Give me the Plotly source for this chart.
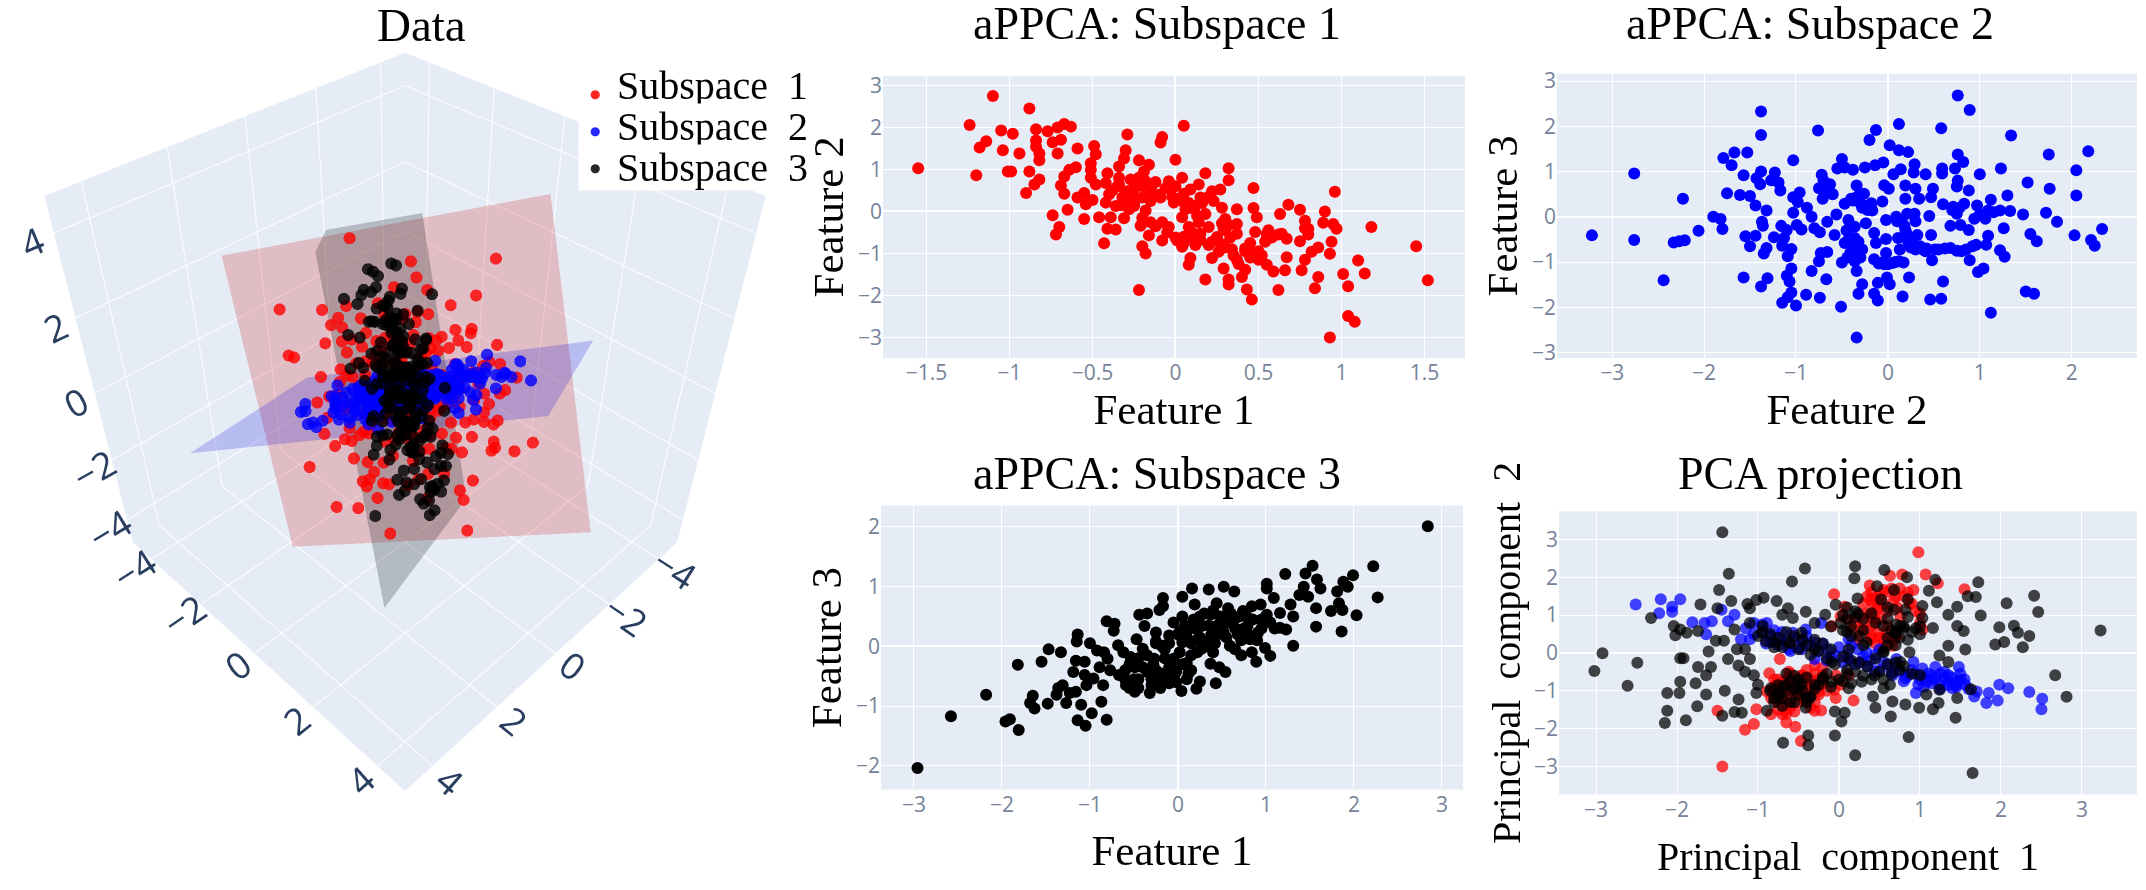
import plotly.graph_objects as go

W, H = 2146, 890
SERIF = "Liberation Serif"
TICK_GREY = "#76839a"

sub1_f1 = [-1.55,-1.24,-1.10,-.88,-1.05,-.98,-1.14,-1.18,-1.04,-.94,-1.2,-1.01,-.88,-.99,-.82,-.85,-.9,-.84,-.84,-.84,-.82,-.82,-.77,-.71,-.67,-.63,-.74,-.69,-.71,-.59,
 -.49,-.48,-.51,-.51,-.51,-.64,-.6,-.67,-.69,-.67,-.74,-.65,-.7,-.72,-.59,-.55,-.54,-.5,-.55,-.46,-.43,-.41,-.36,-.39,-.31,-.42,-.4,-.41,-.48,-.42,
 -.34,-.31,-.3,-.29,-.34,-.29,-.32,-.36,-.34,-.22,-.16,-.19,-.27,-.2,-.14,-.25,-.2,-.15,-.09,-.25,-.18,-.21,-.16,-.15,-.08,-.04,-.08,-.09,.05,0,
 -.2,-.18,-.22,-.08,-.04,.04,0,.04,-.01,.06,.04,.08,.01,.07,.12,.04,.18,.14,.09,.15,.12,.18,.14,.2,.15,.22,.27,.23,.28,.3,
 .29,.25,.2,.09,.08,.22,.26,.18,.29,.32,.32,.32,.32,.34,.37,.37,.37,.37,.47,.47,.49,.48,.42,.47,.42,.4,.43,.46,.5,.55,
 .54,.55,.59,.62,.63,.64,.67,.66,.67,.68,.75,.75,.78,.8,.78,.76,.82,.86,.86,.84,.9,.89,.96,.95,.97,.94,.93,1.1,1.01,1.04,
 1.14,1.04,1.08,.93,1.18,1.45,1.52]
sub1_f2 = [1.03,2.06,2.75,2.45,1.93,1.85,1.67,1.52,1.46,1.38,.86,.95,.95,.95,.76,.64,.44,1.96,1.69,1.54,1.38,1.22,1.91,2.0,2.08,2.02,1.65,1.71,1.38,1.5,
 1.56,1.36,1.15,.99,.8,.99,1.05,.83,.62,.42,-.09,.04,-.37,-.55,.33,.44,.17,.27,-.18,-.14,-.76,-.41,-.43,-.14,-.16,.21,.41,.91,.64,.68,
 1.07,1.26,1.46,1.83,.8,.48,.33,.13,.64,1.22,1.11,.95,.76,.6,.64,.37,.33,.25,.33,.13,.02,-.34,-.57,-.26,-.26,-.37,1.77,1.64,2.04,1.23,
 -.83,-1.0,-1.87,-.69,.72,.8,.6,.25,.21,.05,-.14,-.37,-.69,-.61,-.8,-.84,.91,.64,.52,.33,.13,-.06,-.26,-.37,-.53,.48,.52,.25,.09,-.18,
 -.41,-.61,-.8,-1.11,-1.27,-1.11,-.96,-1.62,-1.36,-1.62,-1.74,1.03,.74,-.9,-1.15,-.53,-.3,.05,.56,.08,-.14,-.49,-.88,-1.0,-1.39,-1.56,-1.86,-2.1,-1.15,-1.27,
 -.72,-.53,-1.43,-1.87,-.06,-.53,-.65,-1.4,-1.09,.16,.04,-.71,-.22,-.41,-1.15,-1.4,-.96,-.86,-1.56,-1.83,0,-.27,.47,-.3,-.41,-.72,-1.01,-1.17,-1.49,-1.78,
 -1.48,-2.49,-2.63,-3.0,-.37,-.83,-1.64]
sub1_z = [3.2,.9,-.4,-.7,.6,.5,1.1,1.5,1.1,1.0,2.4,1.7,1.3,1.6,1.4,1.6,2.1,-.1,.2,.4,.6,.8,-.2,-.6,-.7,-.8,0,-.2,.2,-.2,
 -.6,-.3,0,.2,.4,.6,.4,.9,1.2,1.4,2.3,1.8,2.5,2.8,1.3,1.1,1.3,1.1,1.8,1.6,2.2,1.7,1.6,1.3,1.1,1.0,.7,0,.6,.3,
 -.4,-.7,-1.0,-1.6,-.1,.2,.5,.9,.2,-1.0,-1.0,-.7,-.2,-.2,-.4,.2,.2,.1,-.2,.6,.5,1.1,1.2,.7,.6,.6,-2.1,-1.9,-2.8,-1.6,
 1.6,1.8,3.0,1.1,-.8,-1.1,-.7,-.4,-.2,-.2,.1,.2,.9,.6,.7,1.0,-1.7,-1.2,-.9,-.9,-.5,-.4,-.1,-.1,.2,-1.2,-1.5,-1.0,-.9,-.7,
 -.3,.1,.5,1.1,1.4,.8,.5,1.6,.9,1.1,1.3,-2.3,-1.9,.2,.4,-.4,-.7,-1.1,-2.1,-1.5,-1.2,-.7,-.1,-.1,.6,.8,1.1,1.4,.1,.1,
 -.7,-.9,.2,.7,-1.7,-1.1,-1.1,-.1,-.6,-2.2,-2.2,-1.2,-2.0,-1.8,-.7,-.4,-1.1,-1.4,-.5,-.1,-2.6,-2.2,-3.4,-2.4,-2.3,-1.8,-1.4,-1.6,-1.0,-.7,
 -1.4,.2,.2,1.2,-3.0,-3.1,-2.3]
# the overlapping middle of the panel, only drawn in 2D
sub1_core_f1 = [-.35,-.3,-.25,-.22,-.18,-.15,-.12,-.1,-.06,-.02,.02,.05,.08,.1,.13,.16,.2,.28,.3,.32,.33,.1,.05,-.05,-.12,-.2,-.28,-.33,-.38,-.3,-.25,.15,.22,.28,.3,.12,.05,.0,.42,.45,.5,.52,.55,.45,.38,.35,.78,.8,.62,.58,.56]
sub1_core_f2 = [.6,.45,.55,.8,.72,.5,.7,.4,.55,.35,.3,.42,.2,.08,-.1,.2,.35,-.28,-.45,-.32,-.62,-.5,-.6,-.5,-.35,-.15,.05,.15,.5,.3,.18,-.68,-.72,-.78,-.86,-.72,-.75,-.62,-.95,-1.1,-.95,-1.05,-.65,-.75,-1.25,-1.05,-.4,-.55,-.55,-.62,-.45]

sub2_f2 = [-3.22,-2.76,-2.76,-2.44,-2.23,-2.33,-2.27,-2.21,-2.06,-1.9,-1.82,-1.8,-1.79,-1.7,-1.67,-1.53,-1.57,-1.75,-1.61,-1.5,-1.44,-1.32,-1.55,-1.44,-1.5,-1.38,-1.38,-1.38,-1.43,-1.39,
 -1.23,-1.19,-1.27,-1.17,-1.37,-1.36,-1.24,-1.32,-1.35,-1.57,-1.31,-1.38,-1.16,-1.1,-1.13,-1.15,-1.05,-1.09,-1.05,-1.1,-1.07,-1.05,-1.09,-1.15,-1,-.89,-.74,-1.03,-.96,-1.03,
 -.98,-1.03,-.99,-.94,-.88,-.83,-.8,-.74,-.76,-.72,-.75,-.63,-.71,-.61,-.66,-.56,-.58,-.73,-.66,-.75,-.83,-.67,-.5,-.51,-.5,-.55,-.47,-.38,-.34,-.47,
 -.38,-.26,-.43,-.36,-.47,-.36,-.41,-.28,-.36,-.34,-.28,-.32,-.34,-.25,-.14,-.05,-.2,-.13,-.26,-.17,-.24,-.15,-.13,-.15,-.04,-.11,-.15,-.11,-.06,-.04,
 .01,-.02,-.02,-.02,-.01,.02,.02,.12,.12,.22,.06,.14,.19,.19,.09,.15,.21,.19,.11,.24,.13,.17,.23,.16,.28,.29,.3,.29,.32,.3,
 .41,.34,.45,.41,.47,.49,.47,.48,.51,.46,.58,.59,.59,.6,.58,.6,.68,.68,.71,.73,.76,.89,.76,.82,.76,.75,.75,.79,.8,.88,
 .83,.88,.89,1.0,.97,.94,.96,.98,1.04,1.06,1.09,1.12,1.09,1.07,1.12,1.23,1.22,1.33,1.3,1.26,1.34,1.22,1.27,1.47,1.52,1.5,1.59,1.55,1.62,1.72,
 1.76,1.75,1.84,2.03,2.05,2.05,2.18,2.21,2.25,2.33]
sub2_f3 = [-.41,.96,-.51,-1.4,.4,-.57,-.54,-.52,-.31,0,-.05,-.27,1.3,1.14,1.42,1.42,.92,.52,.48,.46,.25,.14,-.43,-.42,-.65,2.33,1.81,1.0,.85,.72,
 .98,.76,.81,.58,-.11,-.2,-.45,-.69,-.81,-1.34,-1.36,-1.54,-.2,-.29,-.47,-.64,-.71,-.87,-1.14,-1.3,-1.43,-1.67,-1.78,-1.9,-1.96,-1.72,-1.79,1.25,.54,.43,
 .33,.09,-.18,-.28,.2,0,-.25,-.34,1.91,.93,.63,.72,.4,.51,-.11,.05,-.4,-.8,-.78,-.98,-1.2,-1.38,-1.01,-1.99,1.28,1.07,1.09,1.04,.69,.29,
 .36,.51,-.07,-.22,-.58,-.47,-.8,-.72,-.98,-1.2,-1.49,-1.7,-2.67,1.09,1.14,1.2,1.7,1.92,.25,.14,-.14,-.36,-.58,-.94,-1.05,-1.46,-1.7,-1.85,.34,.7,
 .62,-.07,-.49,-.8,-1.34,-1.49,1.58,2.05,1.47,1.43,.94,1.05,.69,.4,0,-.11,.07,-.29,-.47,-.51,-.72,-1.01,-1.34,-1.76,.98,1.16,.62,.07,-.4,-.72,
 .94,.4,.02,-.76,.43,.62,-.4,-.96,-.72,-1.83,1.96,1.07,.96,.28,-1.81,-1.43,-.69,-.2,.22,1.07,2.68,2.36,1.38,1.21,.8,.67,.07,-.18,-.76,.58,
 .29,-.29,-.96,.94,.25,-.04,-.62,-1.22,-1.14,-.04,.14,.38,-.42,-.62,-2.12,1.07,.14,.13,.47,-.25,1.8,-.74,-.88,.05,.76,-1.65,-1.7,-.38,-.54,.09,
 .62,1.38,-.11,-.41,.47,1.03,1.45,-.51,-.64,-.27]
sub2_z = [-.9,-.1,-.9,-1.2,-.3,-.8,-.8,-.7,-.6,-.4,-.4,-.5,.3,.2,.4,.4,.2,-.1,-.1,-.1,-.2,-.2,-.6,-.5,-.7,.9,.7,.2,.1,.1,
 .3,.2,.2,.1,-.4,-.4,-.5,-.6,-.7,-1.0,-1.0,-1.1,-.3,-.4,-.5,-.6,-.6,-.7,-.8,-.9,-1.0,-1.1,-1.2,-1.2,-1.2,-1.1,-1.1,.4,.1,0,
 0,-.2,-.3,-.3,-.1,-.2,-.3,-.3,.8,.3,.2,.2,.1,.1,-.2,-.1,-.3,-.6,-.5,-.7,-.8,-.9,-.6,-1.2,.6,.4,.5,.5,.3,.1,
 .1,.2,-.1,-.2,-.4,-.3,-.5,-.4,-.6,-.7,-.8,-1.0,-1.5,.5,.6,.6,.9,1.0,.1,0,-.1,-.2,-.3,-.5,-.6,-.8,-.9,-1.0,.2,.4,
 .3,0,-.3,-.4,-.7,-.8,.8,1.1,.8,.8,.5,.6,.4,.3,0,0,.1,-.1,-.2,-.2,-.4,-.5,-.7,-.9,.6,.7,.4,.1,-.1,-.3,
 .6,.3,.1,-.3,.3,.4,-.1,-.4,-.3,-.9,1.1,.7,.6,.3,-.8,-.6,-.2,0,.3,.7,1.6,1.4,.9,.8,.6,.5,.2,.1,-.2,.5,
 .3,0,-.3,.7,.3,.2,-.1,-.4,-.4,.2,.3,.4,0,-.1,-.9,.8,.3,.3,.5,.1,1.2,-.1,-.2,.3,.7,-.6,-.6,.1,.1,.4,
 .7,1.1,.3,.2,.7,1.0,1.2,.2,.1,.3]
sub2_core_f2 = [-.45,-.42,-.4,-.38,-.35,-.32,-.3,-.44,-.4,-.33,-.3,-.28,-.22,-.18,-.1,-.05,0,.05,.08,.12,.1,.18,.2,.22,.25,.28,.3,.35,.38,.42,.55,.62,.75,.85,.92,.7,.78,1.1,1.15,1.0,-.6,-.65,-.7]
sub2_core_f3 = [-.3,-.45,-.6,-.7,-.85,-.55,-.9,-.9,.4,.45,.3,.2,.15,.3,-1.03,-1.0,-1.05,-1.02,-1.0,-.98,-.1,-.2,-.35,-.55,-.68,-.62,-.1,-.65,-.72,-.7,-.72,-.7,-.75,-.72,-.65,.15,.2,.12,.1,.05,.5,.6,.8]

sub3_f1 = [-2.96,2.84,-2.58,-2.18,-1.96,-1.91,-1.81,-1.82,-1.55,-1.47,-1.33,-1.65,-1.68,-1.63,-1.48,-1.36,-1.38,-1.27,-1.23,-1.16,-1.31,-1.19,-1.16,-1.06,-1.14,-1.15,-1,-.92,-.84,-.8,
 -1.06,-1.04,-.96,-.85,-1.1,-.87,-.98,-1.14,-1.05,-.81,-.89,-.77,-.67,-.59,-.49,-.81,-.72,-.73,-.68,-.62,-.54,-.44,-.35,-.21,-.17,-.17,-.38,-.47,-.4,-.49,
 -.35,-.32,-.22,-.1,-.27,-.17,-.25,-.1,-.05,-.02,.04,.05,.16,.19,.05,.12,.05,.15,.15,.25,.21,.35,.44,.37,.27,.4,.27,.37,.47,.43,
 .54,.52,.64,.57,.64,.52,.59,.72,.74,.84,.94,.79,.91,.84,.89,1.01,1.01,1.09,1.01,.99,1.05,1.16,1.22,1.16,1.23,1.31,1.28,1.31,1.38,1.45,
 1.53,1.43,1.48,1.58,1.62,1.57,1.57,1.74,1.81,1.88,1.93,1.99,1.83,1.87,1.86,2.03,2.22,2.27,
 -.6,-.45,-.25,-.1,-.15,.02,.1,.22,.45,.68,.82,.65,.35,.55,.95,.78,.25,.4,-.25,-.05,
 -.6,-.55,-.5,-.45,-.4,-.35,-.3,-.28,-.25,-.2,-.18,-.15,-.12,-.1,-.08,-.05,0,.02,.05,.08,.1,.12,.15,.18,.2,.22,.25,.3,.32,.35,.38,.4,.42,.45,.48,.5,.55,.58,.6,.65,.7,.72,.75,.8,.85,.9,.95,1.0,1.05,1.1,-.55,-.45,-.3,-.2,-.1,-.02,.1]
sub3_f3 = [-2.04,2.01,-1.17,-.81,-1.26,-1.22,-1.4,-.31,-.26,-.05,-.1,-.83,-.95,-1.04,-.96,-.7,-.81,-.95,-.78,-.76,-.65,-.43,-.24,-.26,.2,.08,.05,-.07,-.1,-.21,
 -.48,-.65,-.54,-.65,-.98,-.93,-1.12,-1.24,-1.33,-1.23,-.35,-.4,-.48,-.65,-.76,.42,.38,.26,.02,-.1,-.18,.53,.55,.61,.81,.67,.34,.12,-.04,-.35,
 -.43,-.78,-.59,-.62,-.21,.01,.23,.18,-.21,-.43,-.75,.83,.97,.7,.5,.28,.07,-.15,-.4,-.59,-.71,.95,.72,.53,.34,.15,-.04,-.29,-.35,-.62,
 -.43,1.0,.92,.64,.45,.23,.01,-.15,.59,.67,.7,.34,.23,-.1,-.26,1.05,.97,.81,.53,-.03,-.16,.56,1.21,.31,.28,.01,.7,.5,.86,1.22,
 1.35,1.0,.83,1.12,.97,.64,.33,.59,.92,1.08,1.0,1.19,.72,.61,.25,.52,1.34,.82,
 -.4,-.55,-.4,-.35,-.05,.25,-.28,.12,.35,.2,.12,-.05,.1,.5,.45,.5,.5,-.1,.05,.4,
 -.55,-.3,-.55,-.2,-.35,-.15,-.55,-.3,.08,-.45,.0,-.2,-.5,.05,-.3,-.5,.2,-.1,-.3,.35,.15,-.45,.05,.45,.3,-.1,.15,.55,.0,.35,.2,.6,.05,.2,.5,.35,.15,.4,.55,.3,.5,.1,.3,.2,.45,.1,.3,.5,.4,.3,-.7,-.7,-.65,-.7,-.55,-.6,-.55]
sub3_z = [.2,-.3,-2.0,-2.3,-.2,-.2,.6,-3.2,-2.7,-3.2,-2.7,-1.0,-.6,-.2,-.1,-.7,-.4,.3,-.2,-.1,-.8,-1.3,-1.9,-1.6,-3.3,-2.9,-2.5,-1.9,-1.6,-1.1,
 -.8,-.2,-.4,.3,.8,1.2,1.6,1.6,2.2,2.4,-.9,-.4,.1,.9,1.5,-3.3,-3.0,-2.6,-1.6,-1.1,-.6,-2.9,-2.7,-2.6,-3.2,-2.7,-2.1,-1.5,-.8,.1,
 .7,2.0,1.5,1.9,.1,-.4,-1.4,-.9,.6,1.4,2.7,-2.7,-3.0,-2.0,-1.6,-.7,-.1,.9,1.7,2.6,2.9,-2.5,-1.5,-1.0,-.5,.4,.8,1.9,2.3,3.1,
 2.7,-2.2,-1.7,-.9,-.1,.4,1.3,2.2,-.3,-.4,-.2,.7,1.3,2.3,3.0,-1.3,-1.0,-.3,.5,2.4,3.0,.8,-1.3,1.6,1.9,3.0,.6,1.3,.2,-.8,
 -1.1,-.1,.6,-.2,.4,1.4,2.5,2.0,1.0,.6,1.0,.5,1.8,2.2,3.5,2.9,.5,2.4,
 0,.9,.8,1.0,-.2,-.8,1.2,.1,-.2,.9,1.5,1.7,.5,-.4,.7,.1,-1.1,1.3,-.8,-1.5,
 .5,-.2,.7,-.4,.3,-.3,1.2,.4,-.9,1.1,-.4,.3,1.4,-.4,.9,1.6,-.7,.4,1.2,-1.0,-.3,1.8,.2,-1.1,-.6,.9,.1,-1.2,.7,-.4,.2,-1.1,.8,.4,-.6,0,.8,0,-.5,.5,-.1,1.3,.7,1.2,.4,1.7,1.2,.6,1.1,1.5,1.1,1.4,1.5,2.0,1.7,2.0,2.1]

pca_red_pc1 = [.98,-.06,1.55,1.07,1.22,.63,.78,.38,.92,.55,.39,.47,.34,.44,.68,.76,1.0,.87,.6,.71,.28,.23,.12,.02,-.09,.66,.07,1.03,.55,.39,
 -1.44,-.47,-1.5,-1.16,-1.05,-.65,-.54,-1.02,-.84,-.7,-.6,-.3,-.22,-.04,.18,-.06,-.86,-.73,-.77,-.89,-.73,-.62,-.46,-.57,-.36,-.25,-.41,-.52,-.3,-.04,.12,.02,-.2,-.68,-.84,-.36,
 .3,.35,.4,.42,.45,.48,.5,.52,.55,.58,.6,.65,.7,.72,.75,.8,.85,.9,.25,.2,.15,.3,.35,.4,.45,.5,.55,.6,.65,.7,.95,1.0,.38,.42,.48,
 -.8,-.75,-.7,-.65,-.6,-.55,-.5,-.45,-.4,-.35,-.3,-.25,-.2,-.15,-.8,-.75,-.65,-.6,-.5,-.45,-.35,-.3,-.2,-.65,-.55,-.45,-.35,-.75,-.6,-.5,-.8,-.7,-.65,-.3,-.25]
pca_red_pc2 = [2.66,1.55,1.68,2.07,1.84,2.04,2.07,1.78,1.66,1.66,1.4,1.14,1.05,.88,1.4,.97,1.05,1.31,.71,.45,.62,.36,.88,.97,.71,.19,1.22,.62,.36,.36,
 -3.0,-2.33,-1.53,-2.03,-1.88,-1.84,-1.95,-1.49,-1.62,-1.62,-1.45,-1.53,-1.52,-1.19,-1.26,-.97,-.54,-.16,-.83,-1.02,-1.19,-.5,-.59,-1.02,-.76,-1.02,-1.28,-.84,-.33,-.59,-.59,-.84,-.59,-.76,-1.19,-1.1,
 1.3,1.5,1.6,1.3,1.45,1.2,1.5,.9,1.3,1.6,1.1,1.7,1.5,1.2,1.7,1.5,1.6,1.3,1.0,.8,.6,.8,.6,.45,.25,.4,.15,.55,.3,.4,1.1,.8,1.0,.75,.55,
 -.9,-1.3,-1.0,-1.5,-1.2,-.7,-1.3,-.9,-.45,-.7,-1.3,-.7,-.4,-1.0,-1.1,-.7,-.7,-.95,-1.05,-.6,-.95,-.55,-.8,-1.6,-1.55,-1.2,-1.45,-1.5,-.55,-.75,-.7,-1.15,-1.35,-.9,-1.1]

pca_blue_pc1 = [-2.51,-2.2,-1.96,-2.22,-2.06,-2.06,-1.81,-1.66,-1.57,-1.64,-1.37,-1.29,-1.21,-1.45,-1.05,-.89,-1.1,-.94,-.73,-.57,-.41,-.22,-.46,-.3,-.14,.12,-.04,.12,.34,.28,
 .5,.55,.71,.66,.92,1.03,.82,.98,.95,1.14,1.24,1.35,1.46,1.48,1.19,1.4,1.56,1.3,1.08,1.7,1.67,1.82,1.96,1.85,1.98,2.09,2.35,2.51,2.5,-.84,-.62,-.3,.23,.44,.76,
 -1.15,-1.05,-.95,-.85,-.8,-.7,-.65,-.55,-.5,-.45,-.35,-.25,-.2,-.1,0,.05,.1,.2,.3,.35,.4,.5,.6,.65,.7,.8,.85,.9,1.0,1.05,1.1,1.15,1.2,1.25,1.3,1.35,1.4,1.45,1.5,1.55,1.6,1.25,1.15,1.05,.95,1.35,1.5,1.45,-.9,-.75,-.6,-.4,-.15,.15,.45]
pca_blue_pc2 = [1.28,1.42,1.42,1.05,1.22,1.09,.81,.79,.84,.49,.84,1.01,.36,1.14,.79,.79,.36,.53,.36,.53,.62,.79,.1,.28,.1,.36,-.07,-.16,.02,-.24,
 .1,-.24,-.16,-.59,-.24,-.41,-.67,-.84,-1.06,-.59,-.84,-.59,-.76,-.37,-.37,-.93,-.84,-.67,-.76,-1.02,-1.15,-1.32,-1.26,-1.06,-.84,-.93,-1.03,-1.21,-1.49,.28,.1,-.16,.1,-.5,-.5,
 .65,.5,.75,.45,.6,.55,.3,.4,.15,.35,.2,.05,.25,-.1,.15,-.25,-.05,-.3,-.1,-.35,-.2,-.45,-.3,-.5,-.35,-.75,-.6,-.45,-.7,-.9,-.55,-.8,-.65,-.95,-.5,-.75,-.65,-.9,-.55,-.7,-.95,-.55,-.7,-.65,-.55,-.85,-.7,-.85,.25,.2,.05,.45,-.2,.2,-.05]

pca_black_pc1 = [-1.44,-1.36,-.42,-.58,.2,.19,.56,.84,1.19,1.72,.47,.68,1.11,.23,.52,.85,1.21,1.03,1.59,1.69,1.46,1.35,1.75,2.07,2.41,2.46,3.23,1.98,2.16,2.21,
 2.35,2.27,2.04,1.93,1.46,1.54,1.16,1.0,1.35,1.56,1.24,1.35,2.67,2.81,1.63,1.46,1.44,1.23,1.16,.99,1.08,1.24,1.0,.86,1.65,.2,-.05,-.38,-.38,-.69,
 .03,.07,-.05,.64,.45,.82,.66,.42,.55,.28,.12,.63,.44,.87,.76,.55,.34,.12,-.09,-.3,-.46,-.62,-.78,-.94,-1.1,-1.29,-1.42,-1.52,-1.61,-1.16,
 -1.37,-1.26,-1.1,-1.24,-1.16,-1.05,-1,-1.02,-1.74,-1.58,-1.64,-1.92,-1.96,-2.49,-2.92,-3.02,-2.61,-1.96,-1.77,-2.12,-1.97,-1.64,-1.41,-1.24,-1.75,-2.12,-2.15,-1.89,-1.44,-1.29,
 -1.2,-.89,-.41,-.36,-.73,-.84,-.46,-.09,-2.32,-2.04,-1.96,-2.02,-1.88,-1.74,-1.71,-1.48,-1.5,-1.33,-1.13,-1.02,-.93,-1.1,-.77,-.63,-.7,-.41,-.57,-.3,-.17,-.04,.02,.23,.55,.68,
 .82,1.03,.76,
 -1.0,-.95,-.9,-.85,-.8,-.75,-.7,-.65,-.6,-.55,-.5,-.45,-.4,-.35,-.3,-.25,-.2,-.15,-.1,-.05,.05,.1,.15,.2,.25,.3,.35,.4,.45,.5,.55,.6,.65,.7,.75,.8,.9,-.7,-.6,-.5,-.3,-.2,0,.15,.3,.4,.6,.7,.85,.95,.3,.45,.6,.7,.8,.2,.1,-.1,-.5,-.6,-.7,-.8,-.55,-.4,
 .1,.15,.2,.05,.25,.3,.15,.6,.7,.65,.75,.8,.6,.7,.55,.9,1.0,.85,.05,.1,
 -.85,-.8,-.75,-.7,-.65,-.6,-.55,-.5,-.45,-.4,-.4,-.35,-.3,-.25,-.2,-.15,-.1,-.65,-.75,-.55,.05,.1]
pca_black_pc2 = [3.19,2.09,2.23,1.89,2.29,1.97,2.19,2.0,1.93,1.87,1.76,1.66,1.64,1.44,1.41,1.42,1.34,1.24,1.5,1.48,1.22,1.01,.99,1.31,1.51,1.08,.59,.68,.72,.53,
 .45,.15,.29,.22,.71,.58,.66,.49,.19,.09,-.07,-.24,-.59,-1.16,-.96,-1.19,-1.71,-1.32,-1.49,-1.45,-1.1,-.97,-.59,-2.22,-3.17,-2.7,-2.18,-2.18,-2.44,-2.37,
 -1.81,-1.58,-1.55,-1.68,-1.45,-1.36,-1.28,-1.15,-.93,-.76,-.93,-.84,-.59,.02,-.24,.02,.28,.1,-.24,.1,.53,.28,.28,.71,.79,.62,.32,.32,.04,.1,
 -.16,.1,-.16,-.33,-.5,-.59,-.84,-1.06,-.37,-.37,-.59,-.14,-.14,-.26,-.01,-.48,-.87,-.76,-.8,-1.06,-1.06,-1.1,-1.0,-1.23,-1.41,-1.53,-1.85,-1.78,-1.66,-1.56,
 -1.58,-1.53,-1.45,-1.19,-1.1,-.93,-.84,-.76,.92,.71,.62,.47,.53,.58,1.28,1.66,1.18,1.37,1.29,1.4,1.46,1.18,1.37,1.18,1.01,1.09,.92,.79,1.01,1.27,.79,1.05,.71,1.14,
 1.14,.92,.71,
 .45,.55,.3,.5,.15,.4,.15,.55,.25,.45,.1,.35,.2,-.05,.35,.05,.25,-.15,.1,-.3,-.1,-.45,-.2,-.5,-.25,-.6,-.35,-.7,-.15,-.5,-.7,-.3,-.55,-.25,-.45,-.35,-.55,-.9,-.75,-1.1,-.85,-.65,-.7,-.8,.9,1.05,1.2,.75,.95,.65,.6,.8,.9,.5,.65,.95,.55,.7,-.7,-1.3,-1.4,-1.2,-.95,-1.2,
 .9,.7,1.1,1.0,.45,.2,.45,.4,.2,.6,.4,.7,.2,.55,.05,.55,.7,.35,.6,1.2,
 -1.0,-1.3,-.85,-1.2,-.55,-1.0,-1.3,-.8,-1.0,-.65,-1.3,-1.15,-.95,-.85,-.7,-.55,-.9,-.85,-1.1,-.6,-.75,-.55]

# corners of the three planes in the 3D panel
plane1_x = [1.34,-2.13,-1.34,2.13]
plane1_y = [-4.37,1.79,4.37,-1.79]
plane1_z = [2.15,4.71,-2.15,-4.71]
plane2_x = [4.53,-.76,-4.53,.76]
plane2_y = [-1.68,-4.36,1.68,4.36]
plane2_z = [.07,-2.45,-.07,2.45]
plane3_x = [2.45,-3.43,-2.45,3.43]
plane3_y = [.16,-2.85,-.16,2.85]
plane3_z = [5.12,1.89,-5.12,-1.89]

legend_names = ["Subspace\u00a0 1", "Subspace\u00a0 2", "Subspace\u00a0 3"]
legend_colors = ["red", "blue", "black"]
ticks_3d = [-4, -2, 0, 2, 4]


def frac_x(px):
    return px / W


def frac_y(px):
    return 1 - px / H


fig = go.Figure()

for px, py, pz, col, alpha in [
    (plane1_x, plane1_y, plane1_z, "rgb(204,0,0)", 0.2),
    (plane2_x, plane2_y, plane2_z, "rgb(0,0,220)", 0.2),
    (plane3_x, plane3_y, plane3_z, "rgb(0,10,10)", 0.22),
]:
    fig.add_trace(go.Mesh3d(
        x=px, y=py, z=pz, i=[0, 0], j=[1, 2], k=[2, 3],
        color=col, opacity=alpha,
        flatshading=True, hoverinfo="skip", showlegend=False,
        lighting=dict(ambient=1, diffuse=0, specular=0, roughness=1, fresnel=0),
    ))

for name, xs, ys, zs, col in [
    (legend_names[0], sub1_f1, sub1_f2, sub1_z, legend_colors[0]),
    (legend_names[1], sub2_f2, sub2_f3, sub2_z, legend_colors[1]),
    (legend_names[2], sub3_f1, sub3_f3, sub3_z, legend_colors[2]),
]:
    fig.add_trace(go.Scatter3d(
        x=xs, y=ys, z=zs, mode="markers", name=name, showlegend=False,
        marker=dict(size=7, color=col, opacity=0.8, line=dict(width=0)),
    ))

fig.add_trace(go.Scatter(x=sub1_f1 + sub1_core_f1, y=sub1_f2 + sub1_core_f2, mode="markers",
                         xaxis="x", yaxis="y", marker=dict(size=12, color="red"), showlegend=False))
fig.add_trace(go.Scatter(x=sub2_f2 + sub2_core_f2, y=sub2_f3 + sub2_core_f3, mode="markers",
                         xaxis="x2", yaxis="y2", marker=dict(size=12, color="blue"), showlegend=False))
fig.add_trace(go.Scatter(x=sub3_f1, y=sub3_f3, mode="markers",
                         xaxis="x3", yaxis="y3", marker=dict(size=12, color="black"), showlegend=False))
for xs, ys, col in [
    (pca_red_pc1, pca_red_pc2, "red"),
    (pca_blue_pc1, pca_blue_pc2, "blue"),
    (pca_black_pc1, pca_black_pc2, "black"),
]:
    fig.add_trace(go.Scatter(x=xs, y=ys, mode="markers", xaxis="x4", yaxis="y4",
                             marker=dict(size=12, color=col, opacity=0.73), showlegend=False))


def x_axis(left, right, rng, dtick, title, anchor, standoff, size=43):
    return dict(
        domain=[frac_x(left), frac_x(right)], range=rng, dtick=dtick, anchor=anchor,
        tickfont=dict(size=21, color=TICK_GREY),
        title=dict(text=title, font=dict(family=SERIF, size=size, color="black"), standoff=standoff),
    )


def y_axis(top, bottom, rng, dtick, title, anchor, standoff, size=43):
    return dict(
        domain=[frac_y(bottom), frac_y(top)], range=rng, dtick=dtick, anchor=anchor,
        tickfont=dict(size=21, color=TICK_GREY),
        title=dict(text=title, font=dict(family=SERIF, size=size, color="black"), standoff=standoff),
    )


def panel_title(text, cx, cy, size=46):
    return dict(text=text, x=frac_x(cx), y=frac_y(cy), xref="paper", yref="paper",
                xanchor="center", yanchor="middle", showarrow=False,
                font=dict(family=SERIF, size=size, color="black"))


def legend_row(text, cy):
    return dict(text=text, x=frac_x(578), y=frac_y(cy), xref="paper", yref="paper",
                xanchor="left", yanchor="middle", showarrow=False, width=229, align="right",
                bgcolor="white", borderpad=0,
                font=dict(family=SERIF, size=40, color="black"))


def legend_dot(col, cy):
    return dict(text="\u25cf", x=frac_x(595), y=frac_y(cy), xref="paper", yref="paper",
                xanchor="center", yanchor="middle", showarrow=False,
                font=dict(family="DejaVu Sans", size=12, color=col), opacity=0.85)


axis_3d = dict(range=[-4.8, 4.8], tickvals=ticks_3d, title=dict(text=""),
               backgroundcolor="#E5ECF6", showbackground=True,
               gridcolor="white", zerolinecolor="white", gridwidth=2,
               tickfont=dict(size=21, color="#2a3f5f"))

fig.update_layout(
    width=W, height=H, autosize=False,
    margin=dict(l=0, r=0, t=0, b=0),
    paper_bgcolor="white",
    template="plotly",
    xaxis=x_axis(883, 1465, [-1.762, 1.744], 0.5, "Feature 1", "y", 6),
    yaxis=y_axis(70, 357, [-3.49, 3.23], 1, "Feature 2", "x", 0),
    xaxis2=x_axis(1557, 2137, [-3.6, 2.71], 1, "Feature 2", "y2", 6),
    yaxis2=y_axis(68, 357, [-3.12, 3.16], 1, "Feature 3", "x2", 0),
    xaxis3=x_axis(881, 1463, [-3.375, 3.24], 1, "Feature 1", "y3", 18),
    yaxis3=y_axis(507, 796, [-2.4, 2.36], 1, "Feature 3", "x3", 0),
    xaxis4=x_axis(1559, 2137, [-3.457, 3.68], 1, "Principal\u00a0 component\u00a0 1", "y4", 20, 40),
    yaxis4=y_axis(513, 801, [-3.74, 3.74], 1, "Principal\u00a0 component\u00a0 2", "x4", 0, 40),
    scene=dict(
        domain=dict(x=[frac_x(0), frac_x(810)], y=[0, 1]),
        aspectmode="cube",
        xaxis=axis_3d, yaxis=axis_3d, zaxis=axis_3d,
        camera=dict(eye=dict(x=1.316, y=1.316, z=1.531), center=dict(x=0, y=0, z=-0.158)),
    ),
    showlegend=False,
    annotations=[
        panel_title("Data", 421, 18, 47),
        panel_title("aPPCA: Subspace 1", 1157, 17),
        panel_title("aPPCA: Subspace 2", 1810, 17),
        panel_title("aPPCA: Subspace 3", 1157, 474),
        panel_title("PCA projection", 1820, 474),
        legend_row(legend_names[0], 80),
        legend_row(legend_names[1], 122),
        legend_row(legend_names[2], 163),
        legend_dot(legend_colors[0], 88),
        legend_dot(legend_colors[1], 126),
        legend_dot(legend_colors[2], 164),
    ],
)

fig.write_html("out.html", config={"displayModeBar": False},
               post_script="document.body.style.margin='0';document.body.style.overflow='hidden';")
